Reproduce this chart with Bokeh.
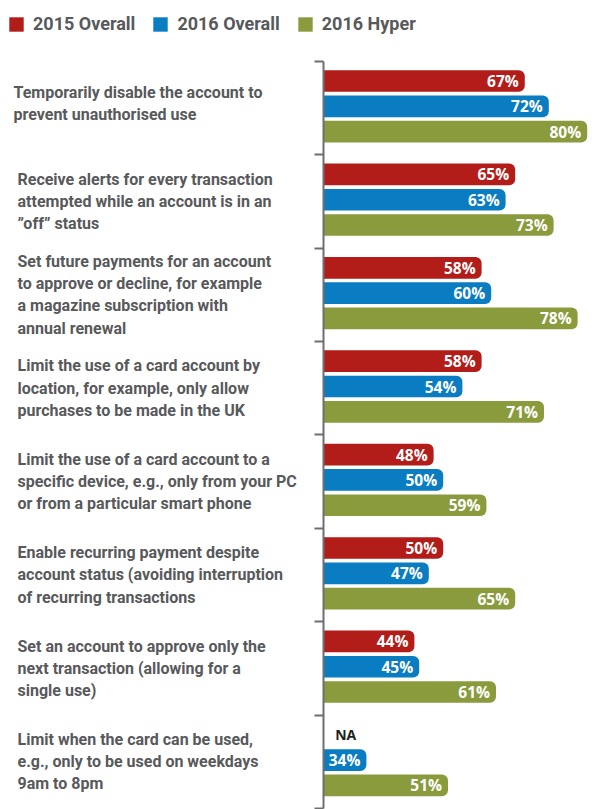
import numpy as np
from bokeh.plotting import figure
from bokeh.models import ColumnDataSource, Range1d, FixedTicker, Legend, LegendItem
from bokeh.core.properties import value
from bokeh.embed import file_html
from bokeh.resources import INLINE

# ---- data ----
categories = [
    "Temporarily disable the account to\nprevent unauthorised use",
    "Receive alerts for every transaction\nattempted while an account is in an\n\u201doff\u201d status",
    "Set future payments for an account\nto approve or decline, for example\na magazine subscription with\nannual renewal",
    "Limit the use of a card account by\nlocation, for example, only allow\npurchases to be made in the UK",
    "Limit the use of a card account to a\nspecific device, e.g., only from your PC\nor from a particular smart phone",
    "Enable recurring payment despite\naccount status (avoiding interruption\nof recurring transactions",
    "Set an account to approve only the\nnext transaction (allowing for a\nsingle use)",
    "Limit when the card can be used,\ne.g., only to be used on weekdays\n9am to 8pm",
]
overall_2015 = [67, 65, 58, 58, 48, 50, 44, None]
overall_2016 = [72, 63, 60, 54, 50, 47, 45, 34]
hyper_2016 = [80, 73, 78, 71, 59, 65, 61, 51]
series_names = ["2015 Overall", "2016 Overall", "2016 Hyper"]
series_values = [overall_2015, overall_2016, hyper_2016]
colors = ["#B21D19", "#0A7CC1", "#8A9B3E"]
X_BASE = 25          # value at which the axis sits

# ---- layout ----
W, H = 597, 809
PX = 4.8
AXIS_PX = 322.7
x_start = X_BASE - AXIS_PX / PX
x_end = X_BASE + (W - AXIS_PX) / PX
n = len(categories)
UNIT = 93.4
y_lo = -(H - (60.7 + n * UNIT)) / UNIT
y_hi = n + 60.7 / UNIT

p = figure(width=W, height=H, output_backend="svg", toolbar_location=None,
           x_range=Range1d(x_start, x_end), y_range=Range1d(y_lo, y_hi),
           min_border=0, min_border_left=0, min_border_right=0,
           min_border_top=0, min_border_bottom=0)
p.outline_line_color = None
p.xgrid.visible = False
p.ygrid.visible = False
p.xaxis.visible = False

ticks = list(range(n + 1))
ax = p.yaxis[0]
ax.fixed_location = X_BASE
ax.ticker = FixedTicker(ticks=ticks)
ax.bounds = (0, n)
ax.axis_line_color = "#6D6E71"
ax.axis_line_width = 2
ax.major_tick_line_color = "#6D6E71"
ax.major_tick_line_width = 2
ax.major_tick_out = 9
ax.major_tick_in = 0
ax.minor_tick_out = 0
ax.minor_tick_in = 0
ax.major_label_overrides = {t: "" for t in ticks}

idx = np.arange(n)
group_top = n - idx
mid_y = group_top - 0.483
offsets = [0.271, 0.0, -0.271]

renderers = []
for k, (name, vals, col) in enumerate(zip(series_names, series_values, colors)):
    ii = [i for i, v in enumerate(vals) if v is not None]
    src = ColumnDataSource(dict(
        y=[mid_y[i] + offsets[k] for i in ii],
        right=[vals[i] for i in ii],
        label=[f"{vals[i]}%" for i in ii],
    ))
    r = p.hbar(y="y", left=X_BASE, right="right", height=0.232, source=src,
               fill_color=col, line_color=None, border_radius=(0, 6, 6, 0))
    renderers.append(r)
    p.text(x="right", y="y", text="label", source=src, x_offset=-6,
           text_align="right", text_baseline="middle", text_color="white",
           text_font=value("Open Sans"), text_font_style="bold",
           text_font_size="15.5px")
    na = [i for i, v in enumerate(vals) if v is None]
    if na:
        na_src = ColumnDataSource(dict(y=[mid_y[i] + offsets[k] for i in na],
                                       t=["NA"] * len(na)))
        p.text(x=X_BASE, y="y", text="t", source=na_src, x_offset=12,
               text_align="left", text_baseline="middle", text_color="#231F20",
               text_font=value("Open Sans"), text_font_style="bold",
               text_font_size="14px")

# category labels
lab_y = [group_top[i] - 0.5 + (0.05 if i == 0 else 0.0) for i in range(n)]
lab_off = [13] + [17] * (n - 1)
lsrc = ColumnDataSource(dict(y=lab_y, t=categories, xo=lab_off))
p.text(x=x_start, y="y", text="t", source=lsrc, x_offset="xo",
       text_align="left", text_baseline="middle", text_color="#58595B",
       text_font=value("Roboto"), text_font_style="bold",
       text_font_size="16px", text_line_height=1.17)

legend = Legend(items=[LegendItem(label=nm, renderers=[r]) for nm, r in zip(series_names, renderers)],
                orientation="horizontal", location=(7, H - 34),
                glyph_width=18, glyph_height=18, label_standoff=8, spacing=16,
                padding=4, margin=0, label_height=14,
                label_text_font="Roboto", label_text_font_style="bold",
                label_text_font_size="18px", label_text_color="#58595B",
                border_line_color=None, background_fill_alpha=0)
p.add_layout(legend)

open("out.html", "w").write(file_html(p, INLINE))
